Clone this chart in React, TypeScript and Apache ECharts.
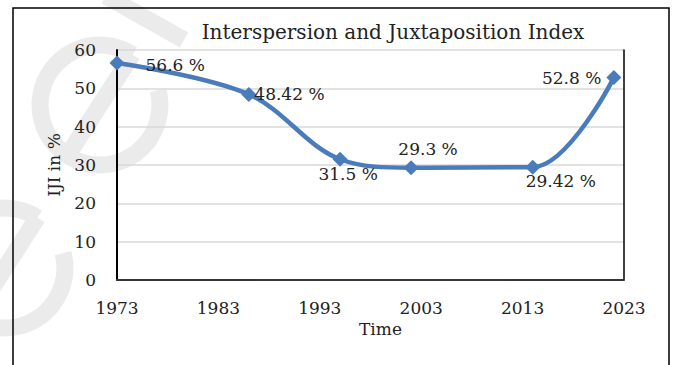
import React, { useEffect, useRef } from "react";
import * as echarts from "echarts";

const years = [1973, 1986, 1995, 2002, 2014, 2022];
const iji = [56.6, 48.42, 31.5, 29.3, 29.42, 52.8];
const valueLabels = ["56.6 %", "48.42 %", "31.5 %", "29.3 %", "29.42 %", "52.8 %"];
const xTicks = [1973, 1983, 1993, 2003, 2013, 2023];
const yTicks = [0, 10, 20, 30, 40, 50, 60];
const titleText = "Interspersion and Juxtaposition Index";
const xName = "Time";
const yName = "IJI in %";

const labelPlacement: { position: string; offset: number[] }[] = [
  { position: "right", offset: [16, 2] },
  { position: "right", offset: [-7, 0] },
  { position: "bottom", offset: [8, -6] },
  { position: "top", offset: [17, 2] },
  { position: "bottom", offset: [28, -7] },
  { position: "left", offset: [0, 0] },
];

const SERIF = "DejaVu Serif";
const BLUE = "#4a7bbd";
const WM = "#ebebeb";

// faint watermark glyph shapes (drawn, not text)
function eGlyph(cx: number, cy: number, r: number) {
  return {
    type: "group",
    x: cx,
    y: cy,
    rotation: 1.0,
    silent: true,
    z: -10,
    children: [
      {
        type: "arc",
        shape: { cx: 0, cy: 0, r, startAngle: 0.75, endAngle: Math.PI * 2, clockwise: true },
        style: { stroke: WM, lineWidth: 17, fill: "none" },
      },
      {
        type: "line",
        shape: { x1: -r, y1: 0, x2: r, y2: 0 },
        style: { stroke: WM, lineWidth: 17 },
      },
    ],
  };
}

export default function App() {
  const ref = useRef<HTMLDivElement>(null);
  useEffect(() => {
    if (!ref.current) return;
    const chart = echarts.init(ref.current, undefined, { renderer: "svg" });
    const xMin = xTicks[0];
    const xMax = xTicks[xTicks.length - 1];
    const xInt = xTicks[1] - xTicks[0];
    const yMin = yTicks[0];
    const yMax = yTicks[yTicks.length - 1];
    const yInt = yTicks[1] - yTicks[0];
    chart.setOption({
      animation: false,
      backgroundColor: "#ffffff",
      graphic: [
        eGlyph(5, 268, 60),
        eGlyph(100, 105, 60),
        {
          type: "line",
          silent: true,
          z: -10,
          shape: { x1: 106, y1: -4, x2: 184, y2: 40 },
          style: { stroke: WM, lineWidth: 17 },
        },
        {
          type: "rect",
          silent: true,
          shape: { x: 13, y: 8, width: 656, height: 400 },
          style: { fill: "none", stroke: "#000", lineWidth: 1.5 },
        },
        {
          type: "text",
          x: 393,
          y: 32,
          style: {
            text: titleText,
            font: `20px '${SERIF}'`,
            fill: "#222",
            textAlign: "center",
            textVerticalAlign: "middle",
          },
        },
      ],
      grid: { left: 117, right: 51, top: 50, bottom: 85, show: false },
      xAxis: [
        {
          type: "value",
          min: xMin,
          max: xMax,
          interval: xInt,
          name: xName,
          nameLocation: "middle",
          nameGap: 38,
          nameTextStyle: { fontFamily: SERIF, fontSize: 17, color: "#222", padding: [0, 0, 0, 20] },
          axisLine: { show: true, lineStyle: { color: "#d9d9d9", width: 1.5 } },
          axisTick: { show: false },
          splitLine: { show: false },
          axisLabel: { fontFamily: SERIF, fontSize: 17, color: "#222", margin: 19, formatter: (v: number) => String(v) },
        },
        {
          type: "value",
          position: "top",
          min: xMin,
          max: xMax,
          interval: xInt,
          axisLine: { show: true, lineStyle: { color: "#000", width: 1.5 } },
          axisTick: { show: false },
          splitLine: { show: false },
          axisLabel: { show: false },
        },
      ],
      yAxis: [
        {
          type: "value",
          min: yMin,
          max: yMax,
          interval: yInt,
          name: yName,
          nameLocation: "middle",
          nameGap: 55,
          nameRotate: 90,
          nameTextStyle: { fontFamily: SERIF, fontSize: 17, color: "#222" },
          axisLine: { show: true, lineStyle: { color: "#000", width: 2 } },
          axisTick: { show: false },
          splitLine: { show: true, lineStyle: { color: "#d9d9d9", width: 1.5 } },
          axisLabel: { fontFamily: SERIF, fontSize: 17, color: "#222", margin: 21 },
        },
        {
          type: "value",
          position: "right",
          min: yMin,
          max: yMax,
          interval: yInt,
          axisLine: { show: true, lineStyle: { color: "#000", width: 1.5 } },
          axisTick: { show: false },
          splitLine: { show: false },
          axisLabel: { show: false },
        },
      ],
      series: [
        {
          type: "line",
          xAxisIndex: 0,
          yAxisIndex: 0,
          smooth: 0.35,
          symbol: "diamond",
          symbolSize: 15,
          lineStyle: { color: BLUE, width: 4.5 },
          itemStyle: { color: BLUE },
          z: 5,
          data: years.map((yr, i) => ({
            value: [yr, iji[i]],
            label: {
              show: true,
              position: labelPlacement[i].position,
              offset: labelPlacement[i].offset,
              distance: 5,
              formatter: valueLabels[i],
              fontFamily: SERIF,
              fontSize: 17,
              color: "#222",
            },
          })),
        },
      ],
    });
    return () => chart.dispose();
  }, []);
  return (
    <div
      ref={ref}
      style={{ position: "absolute", left: 0, top: 0, width: 675, height: 365, background: "#fff" }}
    />
  );
}
